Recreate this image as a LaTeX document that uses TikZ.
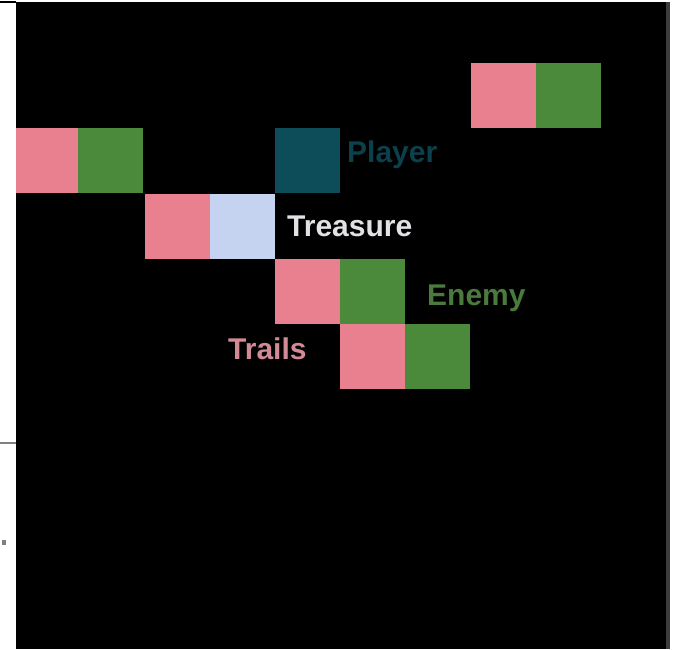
\documentclass[tikz,border=0pt]{standalone}
\usepackage{fontspec}
\setmainfont{Liberation Sans}
\definecolor{pinkc}{HTML}{E8808F}
\definecolor{greenc}{HTML}{4A8A3A}
\definecolor{tealc}{HTML}{0D4D5A}
\definecolor{bluec}{HTML}{C6D3F0}
\definecolor{playertxt}{HTML}{0C404C}
\definecolor{treasuretxt}{HTML}{E2E2E6}
\definecolor{enemytxt}{HTML}{4A7A3C}
\definecolor{trailtxt}{HTML}{D28A97}
\definecolor{edgegray}{HTML}{3C3C3C}
\tikzset{
  cell/.style={fill=#1, draw=none, inner sep=0pt, minimum width=65pt, minimum height=65pt, anchor=north west},
  lbl/.style={text=#1, inner sep=0pt, anchor=base west, font=\fontsize{30}{33}\selectfont\bfseries}
}
\begin{document}
\begin{tikzpicture}[x=1pt,y=-1pt]
  \useasboundingbox (0,0) rectangle (676,649);
  \fill[white] (0,0) rectangle (676,649);
  % black field
  \fill[black] (16,2) rectangle (666,649);
  \fill[edgegray] (666,2) rectangle (670,649);
  % left margin marks
  \draw[black, line width=1.5pt] (0,2) -- (16,2);
  \draw[gray, line width=1.5pt] (0,443) -- (16,443);
  \fill[gray] (2,540) rectangle (6,545);
  % cells
  \node[cell=pinkc] (p1) at (471,63) {};
  \node[cell=greenc] (g1) at (536,63) {};
  \node[cell=pinkc, minimum width=62pt] (p2) at (16,128) {};
  \node[cell=greenc] (g2) at (78,128) {};
  \node[cell=tealc] (pl) at (275,128) {};
  \node[cell=pinkc] (p3) at (145,194) {};
  \node[cell=bluec] (tr) at (210,194) {};
  \node[cell=pinkc] (p4) at (275,259) {};
  \node[cell=greenc] (g4) at (340,259) {};
  \node[cell=pinkc] (p5) at (340,324) {};
  \node[cell=greenc] (g5) at (405,324) {};
  % labels
  \node[lbl=playertxt] (lplayer) at (347,162) {Player};
  \node[lbl=treasuretxt] (ltreasure) at (287,236) {Treasure};
  \node[lbl=enemytxt] (lenemy) at (427,305) {Enemy};
  \node[lbl=trailtxt] (ltrails) at (228,359) {Trails};
\end{tikzpicture}
\end{document}
